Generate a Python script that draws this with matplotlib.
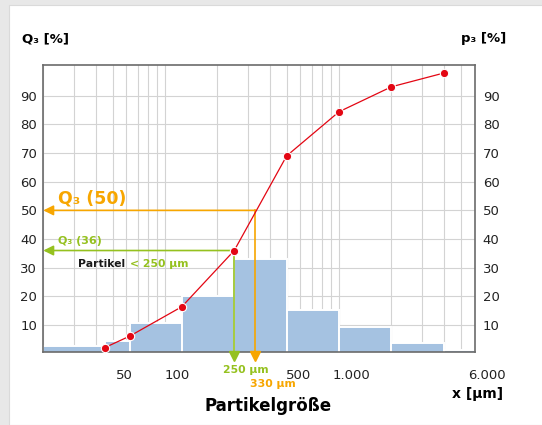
import numpy as np
import matplotlib
matplotlib.use('Agg')
import matplotlib.pyplot as plt
import matplotlib.transforms as mtransforms
from matplotlib.patches import Rectangle
from matplotlib.ticker import FixedLocator, LogLocator, NullFormatter

# Siebklassen [µm] und Verteilungsdichte p3 [%]
kanten = [20, 45, 63, 125, 250, 500, 1000, 2000, 4000, 6000]
p3 = [2.8, 4.5, 10.6, 20.2, 33.0, 15.2, 9.4, 3.9, 1.3]

# Summenkurve Q3 [%] an den oberen Klassengrenzen
x_q3 = [45, 63, 125, 250, 500, 1000, 2000, 4000]
q3 = [2.1, 6.2, 16.4, 36, 69.0, 84.4, 93.1, 97.9]

x_ticks = [50, 100, 500, 1000, 6000]
x_ticklabels = ['50', '100', '500', '1.000', '6.000']
y_ticks = [10, 20, 30, 40, 50, 60, 70, 80, 90]

# Ablesungen an der Summenkurve
x_q50, y_q50 = 330, 50
x_q36, y_q36 = 250, 36

blau = '#a5c2e1'
rot = '#e30613'
orange = '#f7a600'
gruen = '#95c11f'
grau = '#6b6b6b'

fig = plt.figure(figsize=(5.42, 4.25), dpi=100)
fig.patch.set_facecolor('#e8e8e8')
fig.patches.append(Rectangle((9 / 542, 0), 1, 1 - 5 / 425, transform=fig.transFigure,
                             facecolor='white', edgecolor='#dadada', lw=0.8, zorder=-10))

ax = fig.add_axes([43.3 / 542, 1 - 352.3 / 425, 431.2 / 542, 287.3 / 425])
ax.set_xscale('log')
ax.set_xlim(20, 6000)
ax.set_ylim(0.5, 100.7)

# Histogramm p3
ax.bar(kanten[:-1], p3, width=np.diff(kanten), align='edge', color=blau,
       edgecolor='white', linewidth=1.4, zorder=2)

# Raster
ax.xaxis.set_major_locator(FixedLocator(x_ticks))
ax.set_xticklabels(x_ticklabels)
ax.xaxis.set_minor_locator(LogLocator(base=10, subs=np.arange(2, 10)))
ax.xaxis.set_minor_formatter(NullFormatter())
ax.set_yticks(y_ticks)
ax.grid(True, which='both', color='#d3d3d3', lw=0.8)
ax.set_axisbelow(True)

ax.tick_params(axis='x', which='both', length=0, pad=12, labelsize=9.5, labelcolor='#222222')
ax.tick_params(axis='y', length=0, pad=4.3, labelsize=9.5, labelcolor='#222222')
versatz = mtransforms.ScaledTranslation(0.12, 0, fig.dpi_scale_trans)
for lbl in ax.get_xticklabels():
    lbl.set_transform(lbl.get_transform() + versatz)

for s in ax.spines.values():
    s.set_color(grau)
    s.set_linewidth(1.2)

ax2 = ax.twinx()
ax2.set_ylim(ax.get_ylim())
ax2.set_yticks(y_ticks)
ax2.tick_params(axis='y', length=0, pad=6, labelsize=9.5, labelcolor='#222222')
for s in ax2.spines.values():
    s.set_visible(False)

# Ablesung Q3(50) und Q3(36)
pfeil = '-|>,head_length=0.6,head_width=0.3'
for xw, yw, farbe in [(x_q50, y_q50, orange), (x_q36, y_q36, gruen)]:
    ax.annotate('', xy=(20, yw), xytext=(xw, yw), annotation_clip=False,
                arrowprops=dict(arrowstyle=pfeil, color=farbe, lw=1.2, shrinkA=0, shrinkB=0),
                zorder=3)
    ax.plot([xw, xw], [yw, -0.8], color=farbe, lw=1.2, zorder=3, clip_on=False)
    ax.plot([xw], [-0.8], marker='v', ms=7, color=farbe, zorder=3, clip_on=False)

# Summenkurve Q3
ax.plot(x_q3, q3, color=rot, lw=0.9, marker='o', ms=6, mfc=rot, mec='white', mew=0.8,
        zorder=5, clip_on=False)

trans = mtransforms.blended_transform_factory(ax.transAxes, ax.transData)
ax.text(0.034, 52.5, 'Q₃ (50)', transform=trans, color=orange, fontsize=12.5,
        fontweight='bold', va='baseline')
ax.text(0.034, 38.3, 'Q₃ (36)', transform=trans, color=gruen, fontsize=8,
        fontweight='bold', va='baseline')
ax.text(0.0805, 30.4, 'Partikel', transform=trans, color='#1a1a1a', fontsize=7.8,
        fontweight='bold', va='baseline')
ax.text(0.201, 30.4, '< 250 µm', transform=trans, color=gruen, fontsize=7.8,
        fontweight='bold', va='baseline')

ax.annotate('250 µm', xy=(x_q36, 0), xycoords=('data', 'axes fraction'), xytext=(8, -14.9),
            textcoords='offset points', ha='center', va='baseline', color=gruen, fontsize=7.8,
            fontweight='bold', annotation_clip=False)
ax.annotate('330 µm', xy=(x_q50, 0), xycoords=('data', 'axes fraction'), xytext=(13, -25),
            textcoords='offset points', ha='center', va='baseline', color=orange, fontsize=7.8,
            fontweight='bold', annotation_clip=False)

# Achsentitel
fig.text(22 / 542, 1 - 42 / 425, 'Q₃ [%]', fontsize=9.5, fontweight='bold', va='baseline')
fig.text(506 / 542, 1 - 42 / 425, 'p₃ [%]', fontsize=9.5, fontweight='bold', va='baseline',
         ha='right')
fig.text(268 / 542, 1 - 411 / 425, 'Partikelgröße', fontsize=12, fontweight='bold',
         ha='center', va='baseline')
fig.text(503 / 542, 1 - 398 / 425, 'x [µm]', fontsize=10, fontweight='bold', ha='right',
         va='baseline')

fig.savefig('out.png', dpi=100)
